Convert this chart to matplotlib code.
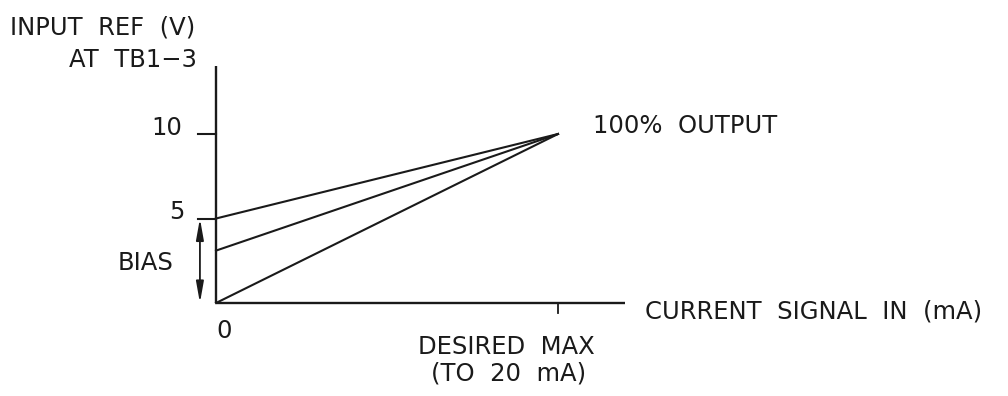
import matplotlib
matplotlib.use("Agg")
import matplotlib.pyplot as plt

# bias levels (V) at 0 mA, all lines meet 10 V at desired max
bias_levels = [5, 3.1, 0]
max_ref = 10
desired_max = 20
y_ticks = [10, 5]
y_tick_labels = ["10", "5"]

ink = "#1a1a1a"
plt.rcParams['font.family'] = ['DejaVu Sans']

fig = plt.figure(figsize=(10.08, 3.96), dpi=100)
ax = fig.add_axes([0, 0, 1, 1])
# 17.1 px per mA, 16.9 px per volt, origin at (216, 303) px
ax.set_xlim(-216 / 17.1, (1008 - 216) / 17.1)
ax.set_ylim(-93 / 16.9, 303 / 16.9)
ax.axis('off')

# axes
ax.plot([0, 0], [0, 14], color=ink, lw=1.7, solid_capstyle='butt')
ax.plot([0, 23.9], [0, 0], color=ink, lw=1.7, solid_capstyle='butt')

# ticks
for v in y_ticks:
    ax.plot([-1.05, 0], [v, v], color=ink, lw=1.5)
ax.plot([desired_max, desired_max], [0, -0.6], color=ink, lw=1.3)

# bias lines
for b in bias_levels:
    ax.plot([0, desired_max], [b, max_ref], color=ink, lw=1.5)

# bias arrow
ax.annotate("", xy=(-0.94, 0), xytext=(-0.94, 5),
            arrowprops=dict(arrowstyle="<|-|>,head_length=0.9,head_width=0.16",
                            color=ink, lw=1.3, mutation_scale=14,
                            shrinkA=0, shrinkB=0))

fs = 17.5
kw = dict(fontsize=fs, color=ink, va='baseline')
ax.text(-1.99, 9.94, y_tick_labels[0], ha='right', **kw)
ax.text(-1.87, 4.97, y_tick_labels[1], ha='right', **kw)
ax.text(-2.46, 1.95, "BIAS", ha='right', **kw)
ax.text(0.02, -2.07, "0", ha='left', **kw)
ax.text(-12.05, 15.86, "INPUT  REF  (V)", ha='left', **kw)
ax.text(-1.11, 13.96, "AT  TB1\u22123", ha='right', **kw)
ax.text(22.05, 10.06, "100%  OUTPUT", ha='left', **kw)
ax.text(25.09, -0.89, "CURRENT  SIGNAL  IN  (mA)", ha='left', **kw)
ax.text(11.81, -3.02, "DESIRED  MAX", ha='left', **kw)
ax.text(12.6, -4.56, "(TO  20  mA)", ha='left', **kw)

fig.savefig("out.png", dpi=100)
